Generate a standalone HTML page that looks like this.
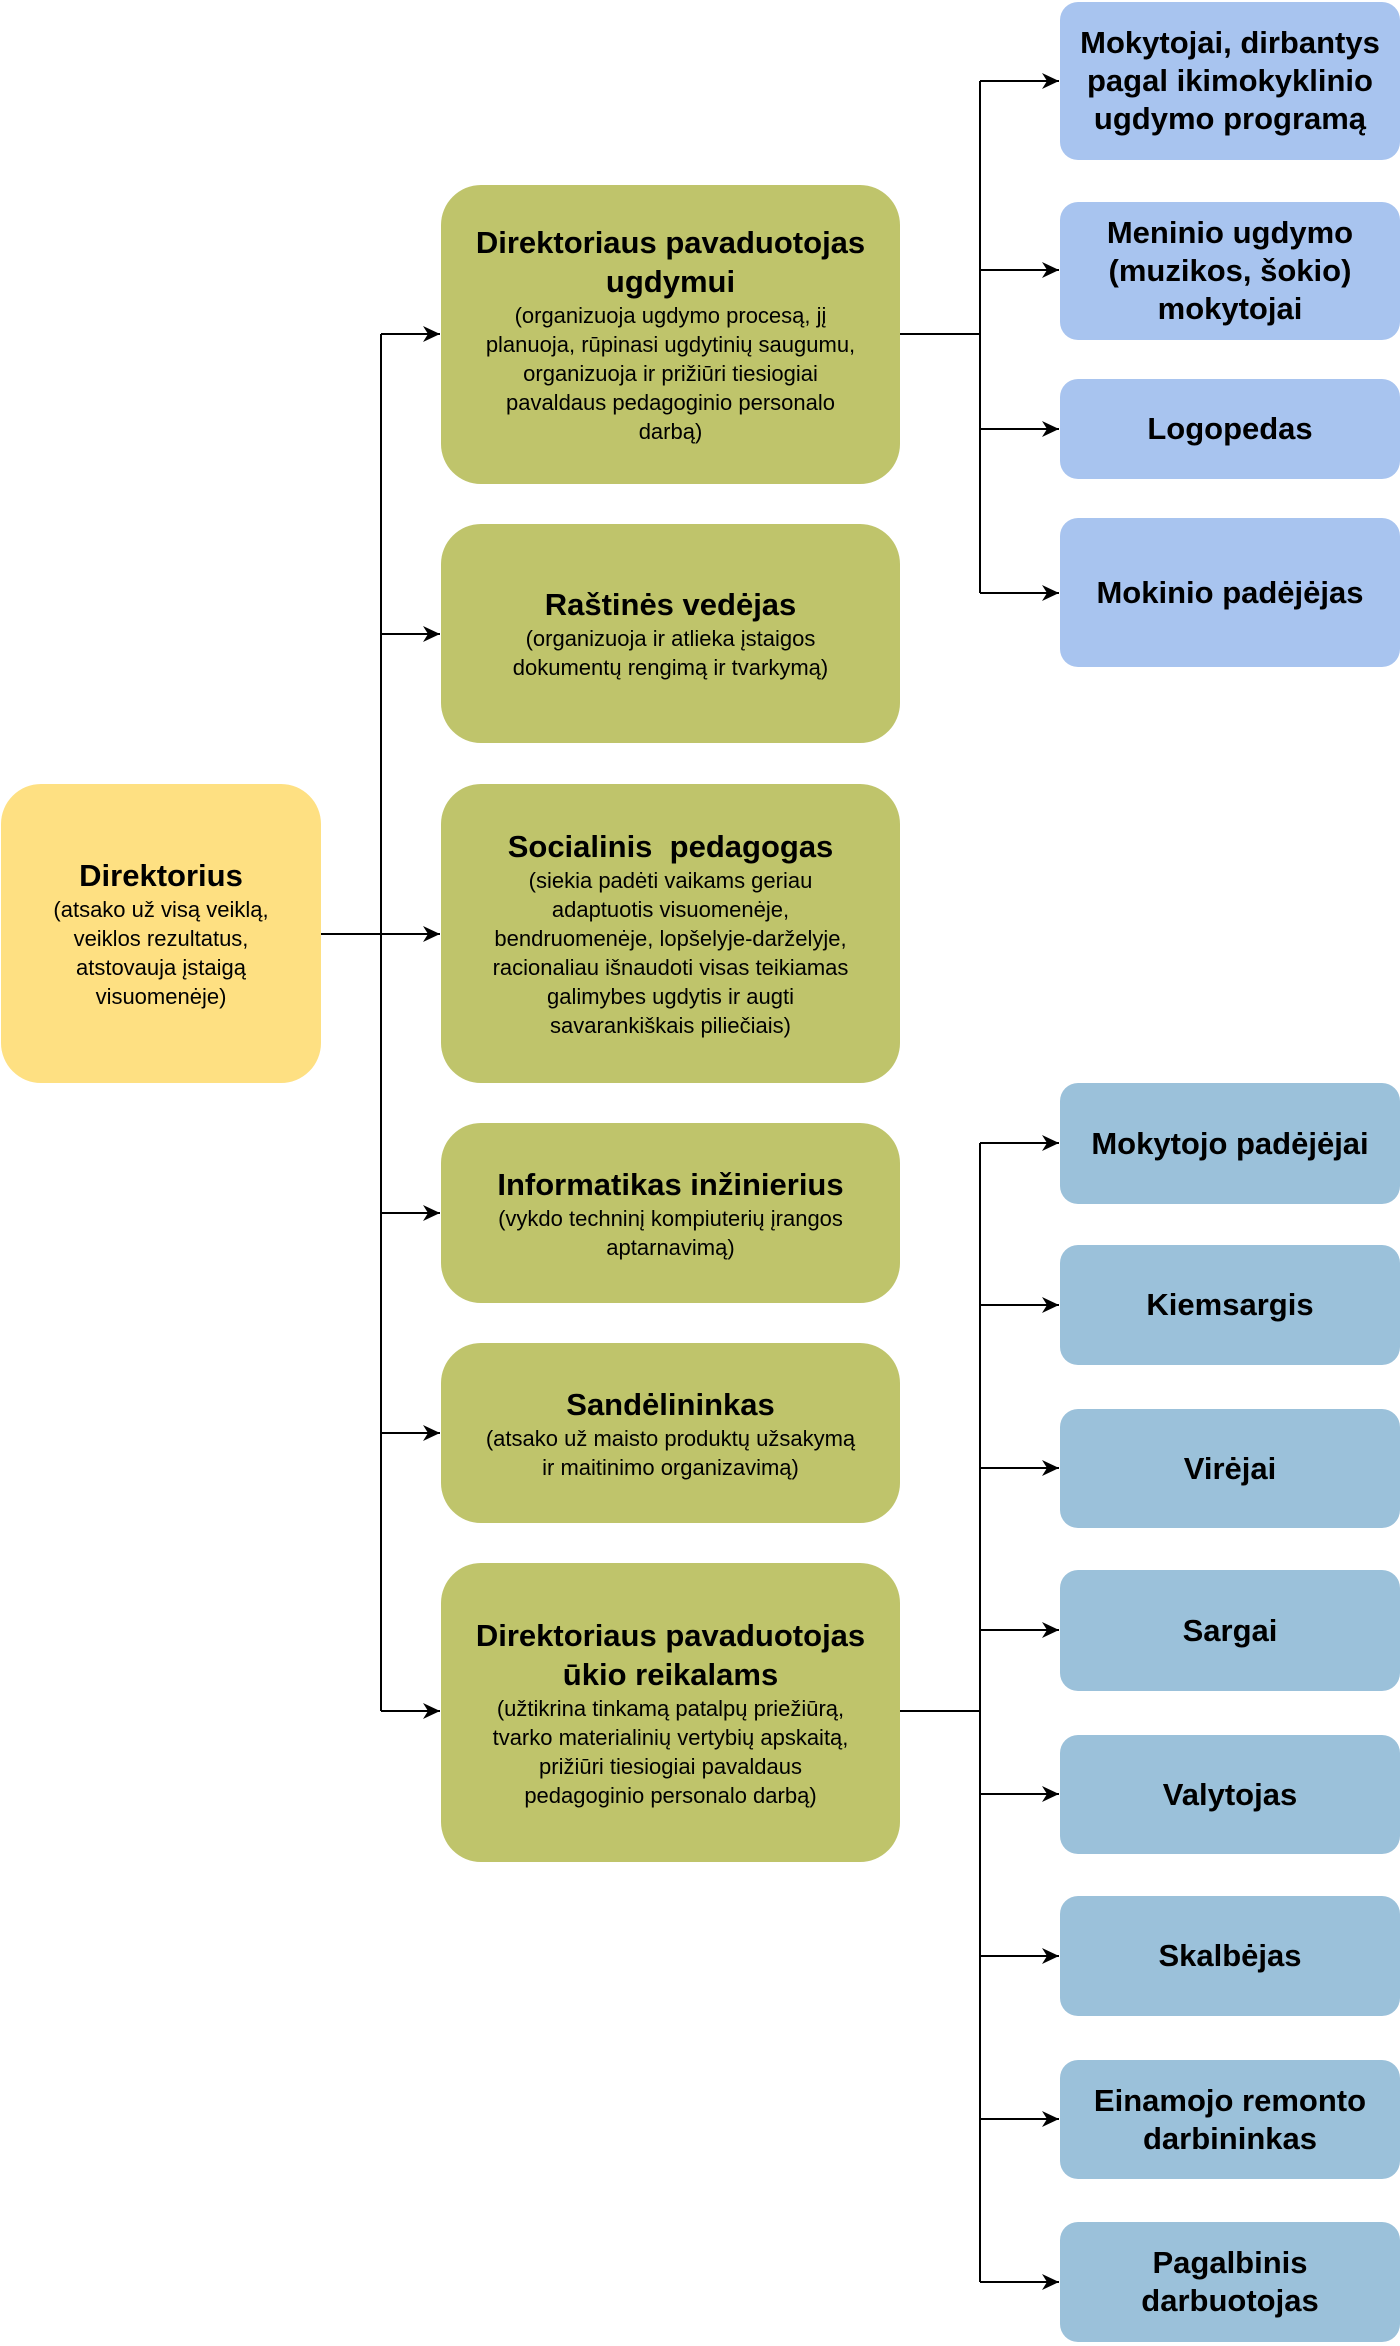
<!DOCTYPE html>
<html><head><meta charset="utf-8"><style>
body{margin:0;width:1400px;height:2346px;position:relative;background:#fff;font-family:"Liberation Sans",sans-serif;overflow:hidden}
.b{position:absolute;display:flex;flex-direction:column;justify-content:center;align-items:center;text-align:center;box-sizing:border-box;padding:0 10px;color:#000}
.g{background:#BFC46B;border-radius:40px;left:441px;width:459px}
.bl{background:#A8C4EF;border-radius:18px;left:1060px;width:340px}
.lb{background:#9BC1DA;border-radius:18px;left:1060px;width:340px}
.t{font-size:31px;font-weight:bold;line-height:39px}
.s{font-size:22px;line-height:29px}
.bt{font-size:31px;font-weight:bold;line-height:38px}
</style></head><body>
<svg width="1400" height="2346" style="position:absolute;left:0;top:0">
<defs><marker id="a" markerWidth="18" markerHeight="18" refX="17" refY="9" orient="auto" markerUnits="userSpaceOnUse"><path d="M0,1 L17,9 L0,17 L5,9z" fill="#000"/></marker></defs>
<g stroke="#000" stroke-width="2" fill="none">
<path d="M320,934 H440" marker-end="url(#a)"/>
<path d="M381,334 V1711"/>
<path d="M381,334 H440" marker-end="url(#a)"/>
<path d="M381,634 H440" marker-end="url(#a)"/>
<path d="M381,1213 H440" marker-end="url(#a)"/>
<path d="M381,1433 H440" marker-end="url(#a)"/>
<path d="M381,1711 H440" marker-end="url(#a)"/>
<path d="M900,334 H980 M980,81 V593"/>
<path d="M980,81 H1059" marker-end="url(#a)"/>
<path d="M980,270 H1059" marker-end="url(#a)"/>
<path d="M980,429 H1059" marker-end="url(#a)"/>
<path d="M980,593 H1059" marker-end="url(#a)"/>
<path d="M900,1711 H980 M980,1143 V2282"/>
<path d="M980,1143 H1059" marker-end="url(#a)"/>
<path d="M980,1305 H1059" marker-end="url(#a)"/>
<path d="M980,1468 H1059" marker-end="url(#a)"/>
<path d="M980,1630 H1059" marker-end="url(#a)"/>
<path d="M980,1794 H1059" marker-end="url(#a)"/>
<path d="M980,1956 H1059" marker-end="url(#a)"/>
<path d="M980,2119 H1059" marker-end="url(#a)"/>
<path d="M980,2282 H1059" marker-end="url(#a)"/>
</g></svg>

<div class="b" style="left:1px;top:784px;width:320px;height:299px;background:#FEE082;border-radius:40px"><div class="t">Direktorius</div><div class="s">(atsako už visą veiklą,<br>veiklos rezultatus,<br>atstovauja įstaigą<br>visuomenėje)</div></div>

<div class="b g" style="top:185px;height:299px"><div class="t">Direktoriaus pavaduotojas<br>ugdymui</div><div class="s">(organizuoja ugdymo procesą, jį<br>planuoja, rūpinasi ugdytinių saugumu,<br>organizuoja ir prižiūri tiesiogiai<br>pavaldaus pedagoginio personalo<br>darbą)</div></div>
<div class="b g" style="top:524px;height:219px"><div class="t">Raštinės vedėjas</div><div class="s">(organizuoja ir atlieka įstaigos<br>dokumentų rengimą ir tvarkymą)</div></div>
<div class="b g" style="top:784px;height:299px"><div class="t">Socialinis &nbsp;pedagogas</div><div class="s">(siekia padėti vaikams geriau<br>adaptuotis visuomenėje,<br>bendruomenėje, lopšelyje-darželyje,<br>racionaliau išnaudoti visas teikiamas<br>galimybes ugdytis ir augti<br>savarankiškais piliečiais)</div></div>
<div class="b g" style="top:1123px;height:180px"><div class="t">Informatikas inžinierius</div><div class="s">(vykdo techninį kompiuterių įrangos<br>aptarnavimą)</div></div>
<div class="b g" style="top:1343px;height:180px"><div class="t">Sandėlininkas</div><div class="s">(atsako už maisto produktų užsakymą<br>ir maitinimo organizavimą)</div></div>
<div class="b g" style="top:1563px;height:299px"><div class="t">Direktoriaus pavaduotojas<br>ūkio reikalams</div><div class="s">(užtikrina tinkamą patalpų priežiūrą,<br>tvarko materialinių vertybių apskaitą,<br>prižiūri tiesiogiai pavaldaus<br>pedagoginio personalo darbą)</div></div>

<div class="b bl" style="top:2px;height:158px"><div class="bt">Mokytojai, dirbantys<br>pagal ikimokyklinio<br>ugdymo programą</div></div>
<div class="b bl" style="top:202px;height:138px"><div class="bt">Meninio ugdymo<br>(muzikos, šokio)<br>mokytojai</div></div>
<div class="b bl" style="top:379px;height:100px"><div class="bt">Logopedas</div></div>
<div class="b bl" style="top:518px;height:149px"><div class="bt">Mokinio padėjėjas</div></div>

<div class="b lb" style="top:1083px;height:121px"><div class="bt">Mokytojo padėjėjai</div></div>
<div class="b lb" style="top:1245px;height:120px"><div class="bt">Kiemsargis</div></div>
<div class="b lb" style="top:1409px;height:119px"><div class="bt">Virėjai</div></div>
<div class="b lb" style="top:1570px;height:121px"><div class="bt">Sargai</div></div>
<div class="b lb" style="top:1735px;height:119px"><div class="bt">Valytojas</div></div>
<div class="b lb" style="top:1896px;height:120px"><div class="bt">Skalbėjas</div></div>
<div class="b lb" style="top:2060px;height:119px"><div class="bt">Einamojo remonto<br>darbininkas</div></div>
<div class="b lb" style="top:2222px;height:120px"><div class="bt">Pagalbinis<br>darbuotojas</div></div>
</body></html>
